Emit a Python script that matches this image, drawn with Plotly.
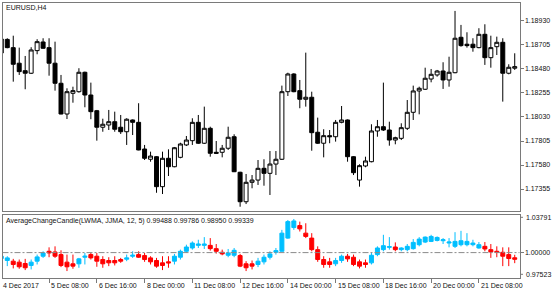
import plotly.graph_objects as go
import pandas as pd

# ---------------- data ----------------
days = pd.bdate_range("2017-12-04", "2017-12-22")
bar_time = [(d + pd.Timedelta(hours=4 * h)).strftime("%Y-%m-%d %H:%M") for d in days for h in range(6)][:87]

price_open = [1.18630, 1.18757, 1.18680, 1.18534, 1.18464, 1.18440, 1.18652, 1.18733, 1.18680, 1.18534,
              1.18346, 1.18058, 1.18252, 1.18267, 1.18449, 1.18236, 1.18089, 1.17934, 1.17955, 1.17986,
              1.17934, 1.17892, 1.18002, 1.17980, 1.17730, 1.17634, 1.17658, 1.17377, 1.17643, 1.17564,
              1.17652, 1.17768, 1.17808, 1.17980, 1.17784, 1.17924, 1.17699, 1.17699, 1.17737, 1.17845,
              1.17512, 1.17236, 1.17418, 1.17439, 1.17549, 1.17502, 1.17589, 1.17634, 1.18267, 1.18433,
              1.18277, 1.18196, 1.18215, 1.17887, 1.17784, 1.17855, 1.17845, 1.17980, 1.18002, 1.17658,
              1.17439, 1.17571, 1.17611, 1.17899, 1.17939, 1.17908, 1.17814, 1.17830, 1.17924, 1.18074,
              1.18274, 1.18290, 1.18386, 1.18424, 1.18461, 1.18377, 1.18445, 1.18777, 1.18712, 1.18712,
              1.18680, 1.18805, 1.18586, 1.18689, 1.18730, 1.18440, 1.18487]
price_high = [1.18771, 1.18768, 1.18792, 1.18680, 1.18602, 1.18684, 1.18759, 1.18768, 1.18768, 1.18736,
              1.18424, 1.18299, 1.18314, 1.18487, 1.18455, 1.18352, 1.18096, 1.18014, 1.18096, 1.18080,
              1.18049, 1.18018, 1.18007, 1.18159, 1.17768, 1.17705, 1.17664, 1.17705, 1.17727, 1.17749,
              1.17789, 1.17852, 1.18018, 1.18049, 1.18127, 1.17939, 1.17805, 1.17768, 1.17939, 1.17868,
              1.17517, 1.17496, 1.17486, 1.17627, 1.17634, 1.17711, 1.17711, 1.18324, 1.18445, 1.18440,
              1.18377, 1.18633, 1.18267, 1.18024, 1.17915, 1.17908, 1.18002, 1.18133, 1.18007, 1.17664,
              1.17587, 1.17658, 1.17962, 1.18002, 1.18352, 1.17986, 1.17845, 1.17971, 1.18189, 1.18324,
              1.18314, 1.18492, 1.18480, 1.18471, 1.18543, 1.18595, 1.19024, 1.18893, 1.18824, 1.18768,
              1.18862, 1.18899, 1.18792, 1.18783, 1.18768, 1.18524, 1.18627]
price_low = [1.18621, 1.18674, 1.18361, 1.18424, 1.18290, 1.18433, 1.18618, 1.18670, 1.18417, 1.18277,
             1.18055, 1.18011, 1.18164, 1.18258, 1.18121, 1.18009, 1.17808, 1.17892, 1.17908, 1.17892,
             1.17871, 1.17768, 1.17861, 1.17718, 1.17627, 1.17611, 1.17320, 1.17308, 1.17477, 1.17559,
             1.17643, 1.17758, 1.17768, 1.17777, 1.17777, 1.17658, 1.17683, 1.17652, 1.17721, 1.17514,
             1.17189, 1.17214, 1.17362, 1.17393, 1.17386, 1.17299, 1.17486, 1.17627, 1.18227, 1.18262,
             1.18112, 1.18127, 1.17714, 1.17777, 1.17652, 1.17784, 1.17799, 1.17971, 1.17611, 1.17486,
             1.17377, 1.17559, 1.17605, 1.17845, 1.17899, 1.17761, 1.17774, 1.17814, 1.17908, 1.18002,
             1.18055, 1.18283, 1.18355, 1.18408, 1.18293, 1.18314, 1.18440, 1.18689, 1.18680, 1.18642,
             1.18674, 1.18518, 1.18492, 1.18611, 1.18174, 1.18430, 1.18471]
price_close = [1.18761, 1.18680, 1.18524, 1.18455, 1.18440, 1.18658, 1.18736, 1.18674, 1.18534, 1.18346,
               1.18058, 1.18267, 1.18277, 1.18449, 1.18236, 1.18080, 1.17934, 1.17962, 1.17986, 1.17915,
               1.17892, 1.18009, 1.17980, 1.17721, 1.17643, 1.17664, 1.17377, 1.17643, 1.17564, 1.17742,
               1.17777, 1.17814, 1.17980, 1.17784, 1.17924, 1.17690, 1.17690, 1.17737, 1.17840, 1.17517,
               1.17236, 1.17418, 1.17439, 1.17549, 1.17502, 1.17589, 1.17634, 1.18267, 1.18433, 1.18267,
               1.18196, 1.18215, 1.17883, 1.17784, 1.17855, 1.17845, 1.17980, 1.18002, 1.17658, 1.17508,
               1.17574, 1.17618, 1.17899, 1.17939, 1.17908, 1.17814, 1.17836, 1.17930, 1.18074, 1.18274,
               1.18299, 1.18393, 1.18430, 1.18461, 1.18377, 1.18449, 1.18768, 1.18699, 1.18699, 1.18680,
               1.18805, 1.18586, 1.18680, 1.18730, 1.18440, 1.18496, 1.18502]

ind_open = [0.99409, 0.99213, 0.99147, 0.99049, 0.98917, 0.98721, 0.99147, 0.99639, 1.00131, 1.00065,
            0.99803, 0.99049, 0.98885, 0.98885, 0.99541, 0.99803, 0.99639, 0.99311, 0.99213, 0.99213,
            0.99311, 0.99344, 0.99639, 0.99803, 0.99705, 0.99475, 0.99213, 0.98983, 0.99081, 0.99147,
            0.99541, 1.00131, 1.00459, 1.00721, 1.00721, 1.00721, 1.00393, 1.00033, 0.99737, 0.99737,
            0.99705, 0.98885, 0.98885, 0.98819, 0.99081, 0.99541, 1.00033, 1.00131, 1.01443, 1.02493,
            1.02689, 1.01935, 1.01443, 1.00295, 0.99311, 0.99081, 0.98885, 0.99213, 0.99639, 0.99541,
            0.99081, 0.98983, 0.98983, 0.99803, 1.00295, 1.00525, 1.00557, 1.00295, 1.00295, 1.00393,
            1.00787, 1.01049, 1.01115, 1.01213, 1.01181, 1.00951, 1.00623, 1.00787, 1.00787, 1.00787,
            1.00459, 1.00623, 1.00295, 1.00131, 1.00033, 0.99803, 0.99488]
ind_high = [0.99803, 0.99639, 0.99377, 0.99311, 0.99377, 0.99311, 0.99803, 1.00131, 1.00525, 1.00623,
            1.00229, 0.99803, 0.99803, 0.99475, 0.99967, 0.99967, 0.99967, 0.99639, 0.99541, 0.99639,
            0.99475, 0.99803, 1.00131, 1.00131, 0.99967, 0.99639, 0.99475, 0.99639, 0.99639, 0.99869,
            1.00295, 1.00787, 1.01115, 1.01279, 1.01541, 1.01443, 1.00853, 1.00295, 1.00361, 1.00459,
            0.99869, 0.99147, 0.99213, 0.99475, 0.99803, 1.00131, 1.00459, 1.02263, 1.03247, 1.03345,
            1.03083, 1.02919, 1.01935, 1.00623, 0.99639, 0.99475, 0.99475, 0.99803, 0.99869, 0.99803,
            0.99311, 0.99311, 0.99967, 1.00623, 1.01771, 1.01541, 1.01017, 1.00525, 1.00853, 1.01345,
            1.01541, 1.01607, 1.01771, 1.01607, 1.01443, 1.01443, 1.02033, 1.02165, 1.01935, 1.01279,
            1.01049, 1.01049, 1.00853, 1.00623, 1.00525, 1.00525, 0.99786]
ind_low = [0.99311, 0.98653, 0.98425, 0.98393, 0.98261, 0.98327, 0.98819, 0.99475, 0.99541, 0.99475,
           0.98557, 0.98163, 0.98393, 0.98491, 0.98819, 0.99311, 0.98589, 0.98491, 0.98653, 0.98721,
           0.98983, 0.99147, 0.99475, 0.99475, 0.99081, 0.98819, 0.98491, 0.98261, 0.98491, 0.98819,
           0.99311, 0.99967, 1.00295, 1.00459, 1.00361, 1.00197, 0.99901, 0.99737, 0.99541, 0.99541,
           0.98557, 0.98163, 0.98327, 0.98557, 0.98819, 0.99311, 0.99803, 1.00100, 1.01377, 1.02263,
           1.02099, 1.01443, 1.00131, 0.99081, 0.98491, 0.98491, 0.98653, 0.98983, 0.99081, 0.98653,
           0.98425, 0.98491, 0.98819, 0.99639, 1.00131, 1.00295, 1.00131, 1.00131, 1.00131, 1.00295,
           1.00623, 1.00951, 1.01049, 1.01115, 1.00853, 1.00525, 1.00459, 1.00623, 1.00623, 1.00623,
           1.00393, 1.00131, 0.99475, 0.99541, 0.98653, 0.98653, 0.98950]
ind_close = [0.99639, 0.99475, 0.98819, 0.98589, 0.98491, 0.99049, 0.99573, 0.99967, 0.99967, 0.99639,
             0.98721, 0.98589, 0.98653, 0.99377, 0.99639, 0.99475, 0.99147, 0.98885, 0.98983, 0.98983,
             0.99147, 0.99475, 0.99737, 0.99541, 0.99311, 0.99081, 0.98653, 0.98721, 0.98983, 0.99639,
             1.00131, 1.00557, 1.00951, 1.00853, 1.00853, 1.00393, 1.00131, 0.99869, 0.99967, 1.00229,
             0.98653, 0.98491, 0.98653, 0.99147, 0.99541, 0.99869, 1.00197, 1.01935, 1.03083, 1.03149,
             1.02361, 1.01607, 1.00295, 0.99311, 0.98819, 0.98819, 0.99213, 0.99639, 0.99377, 0.98819,
             0.98653, 0.98819, 0.99737, 1.00459, 1.00689, 1.00590, 1.00295, 1.00459, 1.00623, 1.01017,
             1.01345, 1.01541, 1.01607, 1.01509, 1.01279, 1.01049, 1.01115, 1.01181, 1.01115, 1.00951,
             1.00787, 1.00361, 1.00065, 1.00033, 0.99639, 0.99409, 0.99339]

price_ticks = [1.17355, 1.17580, 1.17805, 1.18030, 1.18255, 1.18480, 1.18705, 1.18930]
ind_max, ind_level, ind_min = 1.03791, 1.00000, 0.97523
time_label_bars = [0, 8, 16, 24, 32, 40, 48, 56, 64, 72, 80]
time_labels = ["4 Dec 2017", "5 Dec 08:00", "6 Dec 16:00", "8 Dec 00:00", "11 Dec 08:00",
               "12 Dec 16:00", "14 Dec 00:00", "15 Dec 08:00", "18 Dec 16:00", "20 Dec 00:00",
               "21 Dec 08:00"]
symbol_title = "EURUSD,H4"
ind_title = "AverageChangeCandle(LWMA, JJMA, 12, 5) 0.99488 0.99786 0.98950 0.99339"

# ---------------- layout helpers ----------------
W, H = 560, 294
FONT = "Liberation Sans"
FS = 7
BORDER = "#7a7a7a"
BLUE = "#00BFFF"
RED = "#FF0000"


def px(x):
    return x / W


def py(y):
    return 1 - y / H


fig = go.Figure()

fig.add_trace(go.Candlestick(
    x=bar_time, open=price_open, high=price_high, low=price_low, close=price_close,
    xaxis="x", yaxis="y",
    increasing=dict(line=dict(color="black", width=1), fillcolor="white"),
    decreasing=dict(line=dict(color="black", width=1), fillcolor="black"),
    showlegend=False, hoverinfo="skip",
))
fig.add_trace(go.Candlestick(
    x=bar_time, open=ind_open, high=ind_high, low=ind_low, close=ind_close,
    xaxis="x2", yaxis="y2",
    increasing=dict(line=dict(color=BLUE, width=1), fillcolor=BLUE),
    decreasing=dict(line=dict(color=RED, width=1), fillcolor=RED),
    showlegend=False, hoverinfo="skip",
))

xr = [0.2, 86.8]
axis_common = dict(showgrid=False, zeroline=False, showline=True, mirror=True,
                   linecolor=BORDER, linewidth=1)

fig.update_layout(
    width=W, height=H,
    margin=dict(l=0, r=0, t=0, b=0),
    paper_bgcolor="white", plot_bgcolor="white",
    boxgap=0.3, boxgroupgap=0.05,
    font=dict(family=FONT, size=FS, color="#111111"),
    xaxis=dict(domain=[px(2.5), px(519.5)], type="category", range=xr,
               rangeslider=dict(visible=False), showticklabels=False, ticks="",
               anchor="y", **axis_common),
    yaxis=dict(domain=[py(211), py(2.5)], range=[1.17149, 1.19103], side="right",
               tickvals=price_ticks, ticktext=["%.5f" % v for v in price_ticks],
               ticks="outside", ticklen=3, tickcolor=BORDER,
               tickfont=dict(family=FONT, size=FS, color="#111111"),
               anchor="x", **axis_common),
    xaxis2=dict(domain=[px(2.5), px(519.5)], type="category", range=xr,
                rangeslider=dict(visible=False), showticklabels=False,
                tickvals=[bar_time[i] for i in time_label_bars[1:]],
                ticks="outside", ticklen=4, tickcolor=BORDER,
                anchor="y2", **axis_common),
    yaxis2=dict(domain=[py(277.5), py(214.5)], range=[ind_min, ind_max], side="right",
                tickvals=[ind_level], ticktext=["%.5f" % ind_level],
                ticks="outside", ticklen=3, tickcolor=BORDER,
                tickfont=dict(family=FONT, size=FS, color="#111111"),
                anchor="x2", **axis_common),
)

# 1.0 level line
fig.add_shape(type="line", xref="x2 domain", yref="y2", x0=0, x1=1, y0=ind_level, y1=ind_level,
              line=dict(color="#8a8a8a", width=1, dash="6px,2px,2px,2px"))

annotations = []
annotations.append(dict(text=symbol_title, xref="paper", yref="paper", x=px(4), y=py(7),
                        xanchor="left", yanchor="middle", showarrow=False,
                        font=dict(family=FONT, size=FS, color="#111111")))
annotations.append(dict(text=ind_title, xref="paper", yref="paper", x=px(4), y=py(221),
                        xanchor="left", yanchor="middle", showarrow=False,
                        font=dict(family=FONT, size=FS, color="#111111")))
# indicator window max/min labels (drawn inside the window edges)
for val, ypix in [(ind_max, 217.3), (ind_min, 274.3)]:
    annotations.append(dict(text="%.5f" % val, xref="paper", yref="paper", x=px(524), y=py(ypix),
                            xanchor="left", yanchor="middle", showarrow=False,
                            font=dict(family=FONT, size=FS, color="#111111")))
    fig.add_shape(type="line", xref="paper", yref="paper", x0=px(520), x1=px(523),
                  y0=py(ypix), y1=py(ypix), line=dict(color=BORDER, width=1))
# time labels (left-aligned at their bar, MetaTrader style)
for b, lab in zip(time_label_bars, time_labels):
    if b == 0:
        # first bar sits on the window's left edge
        ann = dict(xref="paper", x=px(1))
    else:
        ann = dict(xref="x2", x=b)
    ann.update(text=lab, yref="paper", y=py(285.5), xanchor="left", yanchor="middle",
               showarrow=False, font=dict(family=FONT, size=FS, color="#111111"))
    annotations.append(ann)
fig.update_layout(annotations=annotations)

fig.write_html("out.html")
